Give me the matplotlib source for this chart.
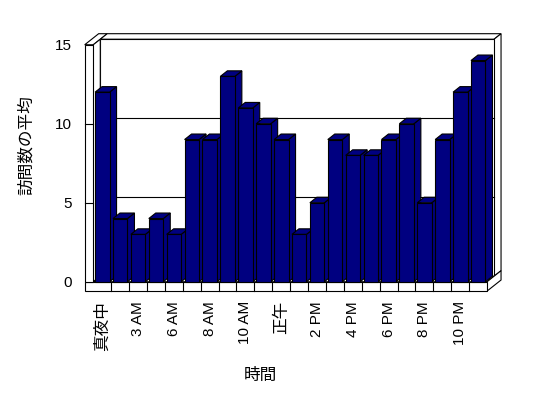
import matplotlib
matplotlib.use('Agg')
import matplotlib.pyplot as plt
from matplotlib.patches import Polygon

# 時間帯ごとの訪問数の平均
categories = ['真夜中', '1 AM', '3 AM', '4 AM', '6 AM', '7 AM', '8 AM', '9 AM',
              '10 AM', '11 AM', '正午', '1 PM', '2 PM', '3 PM', '4 PM', '5 PM',
              '6 PM', '7 PM', '8 PM', '9 PM', '10 PM', '11 PM']
values = [12, 4, 3, 4, 3, 9, 9, 13, 11, 10, 9, 3, 5, 9, 8, 8, 9, 10, 5, 9, 12, 14]
yticks = [0, 5, 10, 15]

plt.rcParams['font.family'] = ['Liberation Sans', 'Noto Sans CJK JP']

N = len(values)
TOP = 15
DX, DY = 0.39, 0.35      # 奥行き（データ単位）
WT, FT = 0.48, 0.59      # 壁と床の厚み
BX, BW = 0.1, 0.81       # 棒の位置と幅
LW = 0.8
NAVY = '#000080'

fig = plt.figure(figsize=(5.48, 3.98), dpi=100)
ax = fig.add_axes([0.1539, 0.2643, 0.7676, 0.655])
ax.set_xlim(-0.5, 23)
ax.set_ylim(-0.7, 15.8)
for s in ax.spines.values():
    s.set_visible(False)


def face(pts, z, fc='white'):
    ax.add_patch(Polygon(pts, closed=True, facecolor=fc, edgecolor='black',
                         linewidth=LW, zorder=z, clip_on=False))


# 壁と床
face([(-WT, TOP), (0, TOP), (2 * DX, TOP + 2 * DY), (-WT + 2 * DX, TOP + 2 * DY)], 1)
face([(DX, TOP + DY), (N + DX, TOP + DY), (N + 2 * DX, TOP + 2 * DY), (2 * DX, TOP + 2 * DY)], 1)
face([(N + DX, DY), (N + DX, TOP + DY), (N + 2 * DX, TOP + 2 * DY), (N + 2 * DX, 2 * DY)], 1)
face([(DX, DY), (N + DX, DY), (N + DX, TOP + DY), (DX, TOP + DY)], 1)
face([(0, 0), (0, TOP), (DX, TOP + DY), (DX, DY)], 1)
face([(0, 0), (N, 0), (N + DX, DY), (DX, DY)], 1)
face([(N, -FT), (N, 0), (N + 2 * DX, 2 * DY), (N + 2 * DX, -FT + 2 * DY)], 1)
face([(-WT, -FT), (N, -FT), (N, 0), (-WT, 0)], 2)
face([(-WT, 0), (0, 0), (0, TOP), (-WT, TOP)], 2)

for v in yticks[1:-1]:
    ax.plot([DX, N + DX], [v + DY, v + DY], color='black', lw=LW, zorder=1.5)
    ax.plot([-WT, 0], [v, v], color='black', lw=LW, zorder=2.5)
for i in range(1, N):
    ax.plot([i, i], [-FT, 0], color='black', lw=LW, zorder=2.5)

# 棒
bars = ax.bar([i + BX for i in range(N)], values, width=BW, align='edge',
              color=NAVY, edgecolor='black', linewidth=LW)
for i, (p, v) in enumerate(zip(bars, values)):
    p.set_zorder(4 + 2 * i)
    x0 = i + BX
    x1 = x0 + BW
    face([(x1, 0), (x1, v), (x1 + DX, v + DY), (x1 + DX, DY)], 3 + 2 * i, NAVY)
    face([(x0, v), (x1, v), (x1 + DX, v + DY), (x0 + DX, v + DY)], 3 + 2 * i, NAVY)

ax.set_yticks(yticks)
ax.set_yticklabels([str(t) for t in yticks], fontsize=11)
ax.set_xticks([i + 0.5 for i in range(0, N, 2)])
ax.set_xticklabels(categories[::2], rotation=90, fontsize=11)
for t in ax.get_xticklabels():
    if t.get_text() in ('真夜中', '正午'):
        t.set_fontsize(12)
ax.tick_params(length=0)
ax.tick_params(axis='y', pad=9)
ax.tick_params(axis='x', pad=6)

fig.text(26 / 548, 1 - 145 / 398, '訪問数の平均', rotation=90, ha='center', va='center', fontsize=12)
fig.text(260 / 548, 1 - 375 / 398, '時間', ha='center', va='center', fontsize=12)

fig.savefig('out.png', dpi=100)
